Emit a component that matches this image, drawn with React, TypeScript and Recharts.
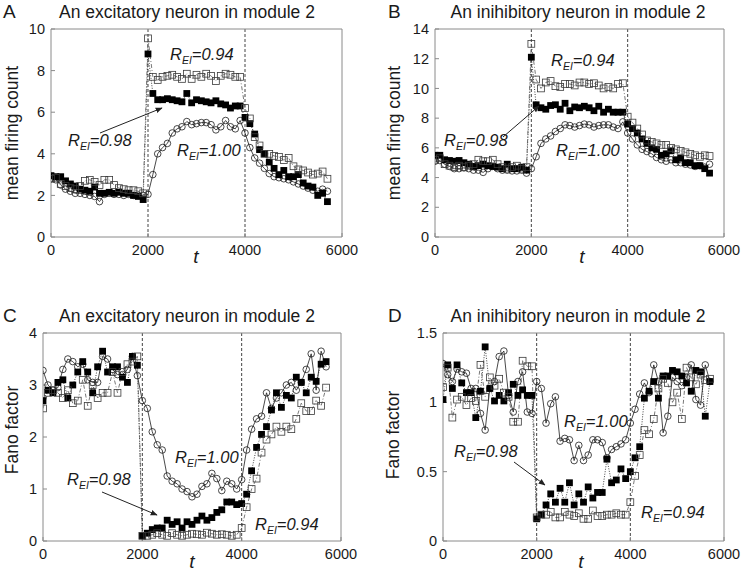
import React from "react";
import { LineChart, Line, XAxis, YAxis, ReferenceLine } from "recharts";

const font = '"Liberation Sans", Arial, Helvetica, sans-serif';

// time bins (one point every 100 steps)
const tBins = [
  0, 100, 200, 300, 400, 500, 600, 700, 800, 900,
  1000, 1100, 1200, 1300, 1400, 1500, 1600, 1700, 1800, 1900,
  2000, 2100, 2200, 2300, 2400, 2500, 2600, 2700, 2800, 2900,
  3000, 3100, 3200, 3300, 3400, 3500, 3600, 3700, 3800, 3900,
  4000, 4100, 4200, 4300, 4400, 4500, 4600, 4700, 4800, 4900,
  5000, 5100, 5200, 5300, 5400, 5500, 5600, 5700,
];
const xTicks = [0, 2000, 4000, 6000];
const stimOn = 2000;
const stimOff = 4000;

// A: mean firing count, excitatory neuron
const countExc100 = [
  2.8, 2.75, 2.5, 2.3, 2.2, 2.1, 2.1, 2.05, 2.0, 1.95,
  1.7, 2.05, 2.1, 2.05, 2.05, 2.0, 2.05, 2.0, 2.0, 2.0,
  2.05, 3.0, 4.0, 4.3, 4.5, 5.0, 5.2, 5.3, 5.55, 5.4,
  5.45, 5.5, 5.5, 5.4, 5.15, 5.3, 5.6, 5.3, 5.2, 5.6,
  5.0, 4.3, 3.8, 3.55, 3.3, 3.05, 2.9, 2.85, 2.8, 2.75,
  2.65, 2.55, 2.45, 2.35, 2.25, 2.2, 2.3, 2.2,
];
const countExc098 = [
  2.95, 2.9, 2.9, 2.7, 2.55, 2.45, 2.3, 2.25, 2.2, 2.4,
  2.1, 2.1, 2.15, 2.1, 2.15, 2.1, 2.1, 2.0, 1.95, 1.8,
  8.8, 6.9, 6.6, 6.6, 6.65, 6.6, 6.55, 6.5, 6.9, 6.45,
  6.6, 6.55, 6.5, 6.45, 6.55, 6.4, 6.35, 6.2, 6.3, 6.3,
  5.75, 5.45, 4.95, 4.2, 4.0, 3.6, 3.3, 3.0, 3.2, 2.9,
  2.9, 3.0, 2.6, 2.45, 2.4, 2.0, 2.1, 1.7,
];
const countExc094 = [
  2.8, 2.85, 2.55, 2.45, 2.35, 2.3, 2.45, 2.7, 2.75, 2.65,
  2.5, 2.75, 2.75, 2.5, 2.35, 2.3, 2.25, 2.25, 2.2, 2.1,
  9.55, 7.7, 7.55, 7.7, 7.75, 7.8, 7.7, 7.6, 7.85, 7.6,
  7.8, 7.7, 7.85, 7.75, 7.5, 7.75, 7.85, 7.8, 7.7, 7.7,
  6.2, 5.7, 4.8, 4.4, 4.0, 4.0, 3.9, 3.85, 3.7, 3.8,
  3.4, 3.25, 3.2, 3.1, 3.0, 3.05, 3.15, 2.8,
];

// B: mean firing count, inhibitory neuron
const countInh100 = [
  5.1, 5.15, 4.9, 4.75, 4.6, 4.6, 4.65, 4.6, 4.5, 4.5,
  4.35, 4.6, 4.75, 4.6, 4.5, 4.5, 4.45, 4.45, 4.5, 4.3,
  4.6, 5.4, 6.3, 6.6, 6.8, 7.1, 7.3, 7.55, 7.5, 7.4,
  7.5, 7.6, 7.55, 7.4, 7.5, 7.55, 7.55, 7.4, 7.3, 7.75,
  7.0, 6.6, 6.2, 5.9, 5.75, 5.6, 5.35, 5.2, 5.1, 5.2,
  5.0, 5.0, 4.9, 4.85, 4.75, 4.8, 4.7, 4.9,
];
const countInh098 = [
  5.5, 5.5, 5.2, 5.15, 5.1, 5.15, 5.0, 4.9, 4.75, 4.8,
  4.9, 4.8, 4.75, 4.7, 4.6, 4.9, 4.6, 4.6, 4.7, 4.5,
  12.1, 8.9, 8.7, 8.6, 8.85, 8.9, 8.6, 9.0, 8.5, 8.75,
  8.7, 8.8, 8.7, 8.5, 8.8, 8.4, 8.6, 8.4, 8.4, 8.4,
  7.6, 7.3, 7.0, 6.6, 6.3, 6.0, 5.9, 5.5, 5.6, 5.8,
  5.2, 5.3, 5.0, 5.0, 4.8, 4.8, 4.6, 4.3,
];
const countInh094 = [
  5.2, 5.3, 4.9, 4.8, 4.7, 4.8, 4.7, 4.8, 4.9, 5.2,
  5.1, 5.1, 5.2, 4.9, 4.7, 4.6, 4.7, 4.8, 4.6, 4.7,
  13.0, 10.6, 10.0, 10.4, 10.5, 10.15, 10.1, 10.3, 10.3, 10.2,
  10.4, 10.4, 10.3, 10.35, 10.2, 10.0, 10.1, 10.0, 10.3, 10.35,
  8.1, 7.7, 7.3, 6.9, 6.5, 6.4, 6.3, 6.2, 6.2, 6.0,
  5.9, 5.8, 5.7, 5.6, 5.5, 5.4, 5.5, 5.45,
];

// C: Fano factor, excitatory neuron
const fanoExc100 = [
  3.28, 3.0, 2.9, 2.95, 3.3, 3.5, 3.45, 3.35, 3.4, 3.1,
  3.05, 3.05, 3.55, 3.5, 3.3, 3.2, 3.2, 3.3, 3.55, 3.18,
  2.7, 2.55, 2.1, 1.85, 1.75, 1.25, 1.15, 1.1, 1.0, 0.95,
  0.85, 0.9, 1.05, 1.1, 1.3, 1.2, 0.97, 1.15, 1.1, 1.0,
  1.18, 1.75, 2.15, 2.35, 2.4, 2.85, 2.55, 2.75, 2.85, 3.0,
  3.05, 2.9, 3.05, 3.3, 3.6, 2.9, 3.65, 3.35,
];
const fanoExc098 = [
  2.7, 2.9, 2.85, 3.05, 3.1, 2.75, 3.0, 3.25, 3.45, 3.25,
  2.85, 3.35, 3.65, 3.25, 3.35, 3.35, 3.15, 3.05, 3.55, 3.38,
  0.1, 0.15, 0.22, 0.25, 0.25, 0.4, 0.32, 0.37, 0.25, 0.37,
  0.32, 0.4, 0.48, 0.4, 0.45, 0.55, 0.6, 0.75, 0.75, 0.7,
  0.72, 0.9, 1.35, 1.8, 2.05, 2.2, 2.52, 2.85, 2.57, 2.8,
  2.75, 3.15, 3.05, 2.85, 3.15, 3.07, 3.4, 3.45,
];
const fanoExc094 = [
  2.55, 2.85, 2.9, 2.85, 2.75, 2.9, 2.65, 2.7, 3.1, 2.6,
  3.0, 2.75, 2.85, 2.85, 3.25, 2.85, 3.25, 3.4, 3.45, 3.55,
  0.1, 0.1, 0.12, 0.15, 0.12, 0.1, 0.15, 0.12, 0.1, 0.12,
  0.14, 0.13, 0.12, 0.16, 0.14, 0.12, 0.13, 0.12, 0.1, 0.12,
  0.25, 0.65, 1.0, 1.2, 1.7, 1.95, 2.05, 2.2, 2.1, 2.2,
  2.15, 2.35, 2.65, 2.5, 2.5, 2.7, 2.6, 2.95,
];

// D: Fano factor, inhibitory neuron
const fanoInh100 = [
  1.28, 1.2, 1.15, 1.24, 1.22, 1.21, 1.1, 1.1, 0.92, 0.8,
  1.1, 1.15, 1.33, 1.37, 1.05, 0.93, 1.15, 1.22, 0.93, 0.92,
  1.15, 1.1, 0.85, 0.99, 1.04, 0.72, 0.74, 0.73, 0.58, 0.69,
  0.58, 0.62, 0.73, 0.73, 0.71, 0.6, 0.66, 0.68, 0.7, 0.73,
  0.85, 0.95, 1.06, 1.14, 1.07, 1.27, 1.15, 0.78, 0.9, 1.18,
  1.15, 1.12, 1.18, 1.27, 1.02, 0.98, 1.27, 1.15,
];
const fanoInh098 = [
  1.02, 1.27, 1.1, 1.27, 1.14, 1.07, 1.07, 0.89, 1.08, 1.4,
  1.1, 1.01, 1.05, 1.01, 1.07, 1.13, 1.05, 1.09, 1.05, 1.05,
  0.16, 0.19, 0.26, 0.34, 0.28, 0.38, 0.28, 0.42, 0.26, 0.34,
  0.28, 0.39, 0.31, 0.35, 0.35, 0.59, 0.42, 0.44, 0.52, 0.45,
  0.5, 0.6, 0.68, 1.03, 1.08, 1.15, 1.03, 1.19, 1.19, 1.23,
  1.22, 1.19, 1.14, 1.08, 1.23, 1.22, 0.9, 1.15,
];
const fanoInh094 = [
  1.11, 1.25, 0.89, 1.02, 1.04, 0.98, 1.03, 1.01, 1.27, 1.04,
  1.18, 1.12, 1.17, 1.07, 1.04, 0.86, 0.86, 1.3, 1.26, 1.26,
  0.17, 0.19, 0.19, 0.21, 0.17, 0.17, 0.21, 0.19, 0.18, 0.2,
  0.16, 0.16, 0.22, 0.18, 0.18, 0.19, 0.19, 0.2, 0.19, 0.19,
  0.28, 0.47, 0.62, 0.8, 0.77, 0.88, 1.1, 1.17, 1.14, 1.0,
  1.07, 0.88, 1.25, 1.18, 1.13, 1.2, 1.16, 1.17,
];

const axisGray = "#8a8a8a";
const ink = "#1a1a1a";

// marker renderers
const circleDot = (p: any) => (
  <circle key={`c${p.index}`} cx={p.cx} cy={p.cy} r={3.3} fill="none" stroke={ink} strokeWidth={0.8} />
);
const filledSquare = (p: any) => (
  <rect key={`f${p.index}`} x={p.cx - 3.4} y={p.cy - 3.4} width={6.8} height={6.8} fill="#000" />
);
const openSquare = (p: any) => (
  <rect key={`o${p.index}`} x={p.cx - 3.4} y={p.cy - 3.4} width={6.8} height={6.8} fill="none" stroke="#3a3a3a" strokeWidth={0.8} />
);

type Ann = { value: string; x: number; y: number };
type PanelProps = {
  x: number; y: number; w: number; h: number;
  plot: { left: number; right: number; top: number; bottom: number };
  letter: string; letterX: number; title: string; titleX: number; titleY: number;
  yLabel: string; yLabelX: number; yLabelY: number; tX: number; tY: number;
  yDomain: [number, number]; yTicks: number[];
  s100: number[]; s098: number[]; s094: number[];
  anns: Ann[]; arrow: [number, number, number, number];
};

function REI({ value, x, y }: Ann) {
  return (
    <text x={x} y={y} fontSize={16.5} fontStyle="italic" fill={ink} fontFamily={font}>
      R<tspan fontSize={10.5} dy={4}>EI</tspan>
      <tspan dy={-4}>={value}</tspan>
    </text>
  );
}

function Panel(props: PanelProps) {
  const { x, y, w, h, plot, s100, s098, s094 } = props;
  const data = tBins.map((t, i) => ({ t, r100: s100[i], r098: s098[i], r094: s094[i] }));
  const tickStyle = { fill: ink, fontSize: 14.5, fontFamily: font };
  const [ax1, ay1, ax2, ay2] = props.arrow;
  const mid = `arr${props.letter}`;
  return (
    <div style={{ position: "absolute", left: x, top: y, width: w, height: h }}>
      <LineChart
        width={w}
        height={h}
        data={data}
        margin={{ top: plot.top - 1, right: w - plot.right - 1, bottom: 0, left: 0 }}
      >
        <XAxis dataKey="t" type="number" domain={[0, 6000]} ticks={xTicks} height={h - plot.bottom}
          stroke={axisGray} tickSize={-4} tickMargin={12} tick={tickStyle} allowDataOverflow />
        <XAxis xAxisId="top" orientation="top" type="number" domain={[0, 6000]} ticks={xTicks} height={1}
          stroke={axisGray} tickSize={-4} tick={false} />
        <YAxis type="number" domain={props.yDomain} ticks={props.yTicks} width={plot.left}
          stroke={axisGray} tickSize={-4} tickMargin={10} tick={tickStyle} allowDataOverflow />
        <YAxis yAxisId="right" orientation="right" type="number" domain={props.yDomain} ticks={props.yTicks}
          width={1} stroke={axisGray} tickSize={-4} tick={false} />
        <ReferenceLine x={stimOn} stroke="#444" strokeDasharray="3 2" strokeWidth={1} />
        <ReferenceLine x={stimOff} stroke="#444" strokeDasharray="3 2" strokeWidth={1} />
        <Line dataKey="r100" type="linear" stroke={ink} strokeWidth={0.8} dot={circleDot} activeDot={false} isAnimationActive={false} />
        <Line dataKey="r098" type="linear" stroke="#111" strokeWidth={0.8} strokeDasharray="1 1.5" dot={filledSquare} activeDot={false} isAnimationActive={false} />
        <Line dataKey="r094" type="linear" stroke="#555" strokeWidth={0.8} strokeDasharray="4 2 1 2" dot={openSquare} activeDot={false} isAnimationActive={false} />
      </LineChart>
      <svg width={w} height={h} style={{ position: "absolute", left: 0, top: 0, pointerEvents: "none" }}>
        <defs>
          <marker id={mid} viewBox="0 0 10 10" refX="9" refY="5" markerWidth="7" markerHeight="7" orient="auto">
            <path d="M0,1 L10,5 L0,9 z" fill="#222" />
          </marker>
        </defs>
        <text x={props.letterX} y={props.titleY} fontSize={19} fill={ink} fontFamily={font}>{props.letter}</text>
        <text x={props.titleX} y={props.titleY} fontSize={17.5} fill={ink} fontFamily={font} textAnchor="middle">{props.title}</text>
        <text x={props.yLabelX} y={props.yLabelY} fontSize={17.5} fill={ink} fontFamily={font} textAnchor="middle"
          dominantBaseline="central" transform={`rotate(-90 ${props.yLabelX} ${props.yLabelY})`}>{props.yLabel}</text>
        <text x={props.tX} y={props.tY} fontSize={19} fontStyle="italic" fill={ink} fontFamily={font} textAnchor="middle">t</text>
        {props.anns.map((a) => <REI key={a.value} {...a} />)}
        <line x1={ax1} y1={ay1} x2={ax2} y2={ay2} stroke="#222" strokeWidth={1} markerEnd={`url(#${mid})`} />
      </svg>
    </div>
  );
}

export default function App() {
  return (
    <div style={{ position: "fixed", left: 0, top: 0, width: 742, height: 571, background: "#fff", fontFamily: font }}>
      <Panel
        x={0} y={0} w={371} h={285}
        plot={{ left: 51, right: 342, top: 29, bottom: 237 }}
        letter="A" letterX={3} title="An excitatory neuron in module 2" titleX={187} titleY={18}
        yLabel="mean firing count" yLabelX={12} yLabelY={133} tX={196} tY={263}
        yDomain={[0, 10]} yTicks={[0, 2, 4, 6, 8, 10]}
        s100={countExc100} s098={countExc098} s094={countExc094}
        anns={[{ value: "0.94", x: 170, y: 60 }, { value: "0.98", x: 68, y: 146 }, { value: "1.00", x: 177, y: 156 }]}
        arrow={[100, 133, 162, 108]}
      />
      <Panel
        x={371} y={0} w={371} h={285}
        plot={{ left: 64, right: 353, top: 29, bottom: 237 }}
        letter="B" letterX={17} title="An inihibitory neuron in module 2" titleX={207} titleY={18}
        yLabel="mean firing count" yLabelX={23} yLabelY={133} tX={211} tY={263}
        yDomain={[0, 14]} yTicks={[0, 2, 4, 6, 8, 10, 12, 14]}
        s100={countInh100} s098={countInh098} s094={countInh094}
        anns={[{ value: "0.94", x: 180, y: 66 }, { value: "0.98", x: 73, y: 146 }, { value: "1.00", x: 185, y: 156 }]}
        arrow={[132, 137, 168, 106]}
      />
      <Panel
        x={0} y={285} w={371} h={286}
        plot={{ left: 43, right: 341, top: 48, bottom: 256 }}
        letter="C" letterX={3} title="An excitatory neuron in module 2" titleX={187} titleY={37}
        yLabel="Fano factor" yLabelX={12} yLabelY={145} tX={192} tY={283}
        yDomain={[0, 4]} yTicks={[0, 1, 2, 3, 4]}
        s100={fanoExc100} s098={fanoExc098} s094={fanoExc094}
        anns={[{ value: "1.00", x: 175, y: 178 }, { value: "0.98", x: 67, y: 200 }, { value: "0.94", x: 255, y: 245 }]}
        arrow={[102, 207, 157, 230]}
      />
      <Panel
        x={371} y={285} w={371} h={286}
        plot={{ left: 72, right: 353, top: 48, bottom: 256 }}
        letter="D" letterX={17} title="An inihibitory neuron in module 2" titleX={207} titleY={37}
        yLabel="Fano factor" yLabelX={22} yLabelY={150} tX={210} tY={283}
        yDomain={[0, 1.5]} yTicks={[0, 0.5, 1, 1.5]}
        s100={fanoInh100} s098={fanoInh098} s094={fanoInh094}
        anns={[{ value: "1.00", x: 193, y: 142 }, { value: "0.98", x: 83, y: 172 }, { value: "0.94", x: 270, y: 233 }]}
        arrow={[143, 177, 174, 200]}
      />
    </div>
  );
}
